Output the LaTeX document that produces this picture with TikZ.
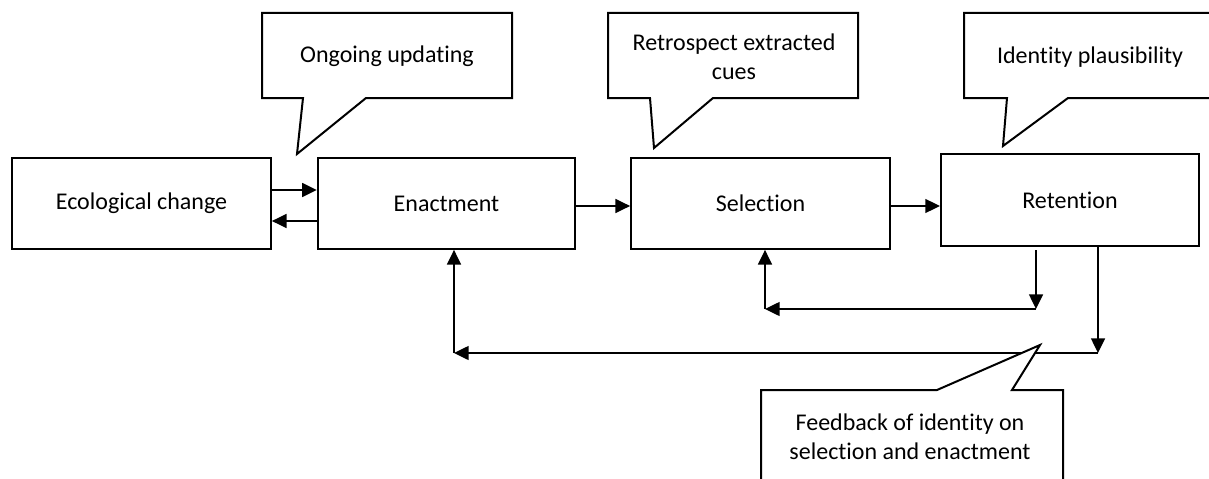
\documentclass[tikz,border=0pt]{standalone}
\usepackage{fontspec}
\setmainfont{Carlito}[Ligatures={NoCommon}]
\usetikzlibrary{arrows.meta}
\begin{document}
\begin{tikzpicture}[x=0.75pt,y=-0.75pt,
  procbox/.style={draw=black,line width=1.6pt,minimum height=68pt,inner sep=0pt,font=\fontsize{18}{22}\selectfont,align=center},
  callout/.style={draw=black,line width=1.5pt,line join=miter},
  ctext/.style={font=\fontsize{18}{22}\selectfont,align=center,inner sep=0pt},
  arr/.style={line width=1.1pt,-{Triangle[length=11pt,width=10.5pt]}},
  plain/.style={line width=1.1pt}]
\useasboundingbox (0,0) rectangle (1209,478);
% process boxes
\node[procbox,minimum width=194pt] (eco) at (141.5,203.5) {Ecological change};
\node[procbox,minimum width=193pt] (ena) at (446.5,203.5) {Enactment};
\node[procbox,minimum width=194pt] (sel) at (760.5,203.5) {Selection};
\node[procbox,minimum width=193.5pt,minimum height=69pt] (ret) at (1070,200) {Retention};
% bend points
\coordinate (yA) at (0,190);
\coordinate (yB) at (0,221);
\coordinate (yC) at (0,206);
\coordinate (in1) at (1036,250);
\coordinate (in2) at (1036,309);
\coordinate (in3) at (765,309);
\coordinate (out1) at (1098,246);
\coordinate (out2) at (1098,353);
\coordinate (out3) at (454,353);
% forward connectors
\draw[arr] (eco.east |- yA) -- (ena.west |- yA);
\draw[arr] (ena.west |- yB) -- (eco.east |- yB);
\draw[arr] (ena.east |- yC) -- (sel.west |- yC);
\draw[arr] (sel.east |- yC) -- (ret.west |- yC);
% inner feedback
\draw[arr] (in1) -- (in2);
\draw[arr] (in2) -- (in3);
\draw[arr] (in3) -- (sel.south -| in3);
% outer feedback
\draw[arr] (ret.south -| out1) -- (out2);
\draw[arr] (out2) -- (out3);
\draw[arr] (out3) -- (ena.south -| out3);
% callouts
\draw[callout,fill=white] (262,13) -- (512,13) -- (512,98) -- (366,98) -- (297,154) -- (303,98) -- (262,98) -- cycle;
\node[ctext] (c1) at (387,56) {Ongoing updating};
\draw[callout,fill=white] (608,13) -- (858,13) -- (858,98) -- (713,98) -- (654,148) -- (650,98) -- (608,98) -- cycle;
\node[ctext] (c2) at (734,57) {Retrospect extracted\\cues};
\draw[callout,fill=white] (964,13) -- (1216,13) -- (1216,98) -- (1068,98) -- (1003,146) -- (1007,98) -- (964,98) -- cycle;
\node[ctext] (c3) at (1090,57) {Identity plausibility};
\draw[callout,fill=white] (761,390) -- (937,390) -- (1040,345) -- (1012,390) -- (1063,390) -- (1063,484) -- (761,484) -- cycle;
\node[ctext] (c4) at (910,437) {Feedback of identity on\\selection and enactment};
\end{tikzpicture}
\end{document}
